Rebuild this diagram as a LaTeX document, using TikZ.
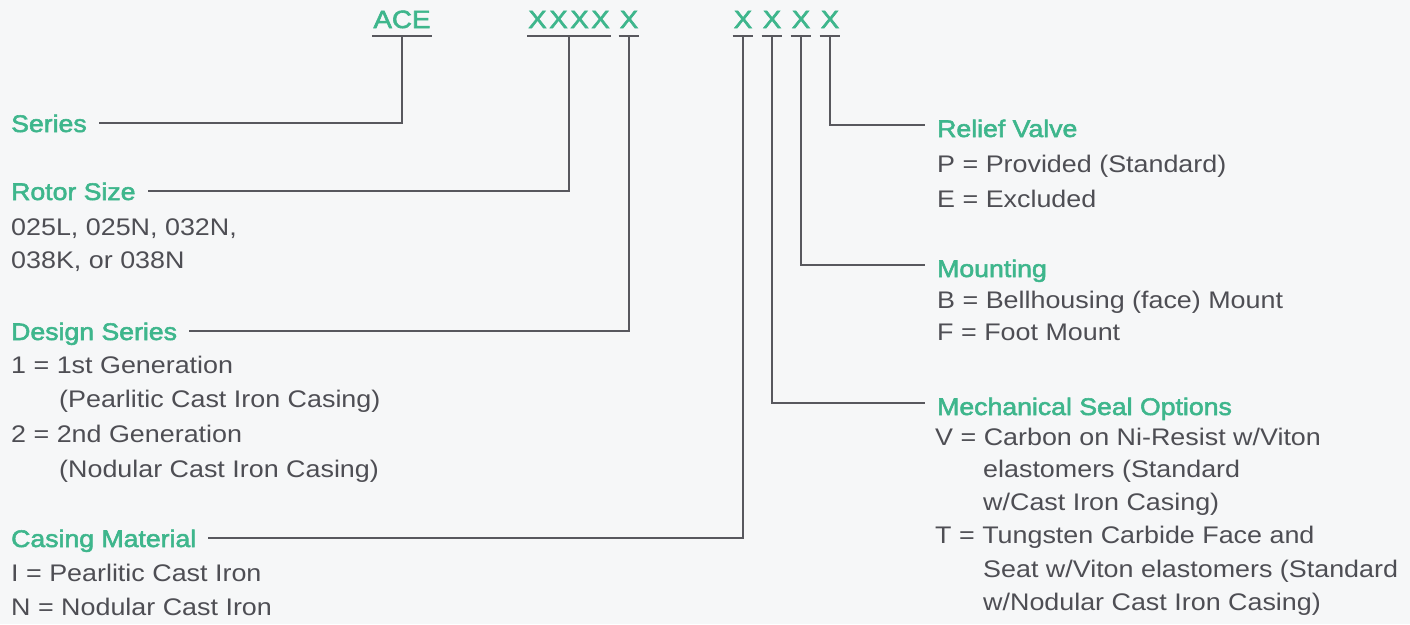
\documentclass[tikz,border=0pt]{standalone}
\usepackage{fontspec}
\newfontfamily\txfont[FakeStretch=1.12]{Liberation Sans}
\newfontfamily\hdfont[FakeStretch=1.11,FakeBold=2.3]{Liberation Sans}
\definecolor{acegreen}{RGB}{62,182,140}
\definecolor{acetext}{RGB}{78,78,84}
\definecolor{aceline}{RGB}{88,88,94}
\definecolor{acebg}{RGB}{246,247,248}
\tikzset{
  hd/.style={anchor=base west,inner sep=0pt,text height=18pt,text depth=0pt,text=acegreen,font=\hdfont\fontsize{24}{28}\selectfont},
  tx/.style={anchor=base west,inner sep=0pt,text=acetext,font=\txfont\fontsize{24}{28}\selectfont},
  cd/.style={anchor=base,inner xsep=1pt,inner ysep=8pt,text height=18pt,text depth=0pt,text=acegreen,font=\hdfont\fontsize{25}{28}\selectfont},
  ln/.style={draw=aceline,line width=1.6pt},
  lnk/.style={ln,shorten >=12pt},
}
\begin{document}
\begin{tikzpicture}[x=1pt,y=-1pt]
\fill[acebg] (0,0) rectangle (1410,624);
\useasboundingbox (0,0) rectangle (1410,624);
% model code
\node[cd] (ace) at (402,28){ACE}; \node[cd] (rot) at (569,28){X\kern2.5pt X\kern2.5pt X\kern2.5pt X};
\node[cd] (des) at (629,28){X};
\node[cd] (cas) at (743,28){X}; \node[cd] (sea) at (772,28){X};
\node[cd] (mnt) at (801,28){X}; \node[cd] (rel) at (830,28){X};
\foreach \n in {ace,rot,des,cas,sea,mnt,rel} \draw[ln] (\n.south west)--(\n.south east);
% left column
\node[hd] (hser) at (11,132){Series};
\node[hd] (hrot) at (11,200){Rotor Size};
\node[tx] (r1) at (11,235){025L, 025N, 032N,}; \node[tx] (r2) at (11,268){038K, or 038N};
\node[hd] (hdes) at (11,340){Design Series};
\node[tx] (d1) at (11,373){1 = 1st Generation}; \node[tx] (d2) at (59,407){(Pearlitic Cast Iron Casing)};
\node[tx] (d3) at (11,442){2 = 2nd Generation}; \node[tx] (d4) at (59,477){(Nodular Cast Iron Casing)};
\node[hd] (hcas) at (11,547){Casing Material};
\node[tx] (c1) at (11,581){I = Pearlitic Cast Iron}; \node[tx] (c2) at (11,615){N = Nodular Cast Iron};
% right column
\node[hd] (hrel) at (937,137){Relief Valve};
\node[tx] (p1) at (937,172){P = Provided (Standard)}; \node[tx] (p2) at (937,207){E = Excluded};
\node[hd] (hmnt) at (937,277){Mounting};
\node[tx] (m1) at (937,308){B = Bellhousing (face) Mount}; \node[tx] (m2) at (937,340){F = Foot Mount};
\node[hd] (hsea) at (937,415){Mechanical Seal Options};
\node[tx] (s1) at (935,445){V = Carbon on Ni-Resist w/Viton};
\node[tx] (s2) at (983,477){elastomers (Standard}; \node[tx] (s3) at (983,510){w/Cast Iron Casing)};
\node[tx] (s4) at (935,543){T = Tungsten Carbide Face and};
\node[tx] (s5) at (983,577){Seat w/Viton elastomers (Standard}; \node[tx] (s6) at (983,610){w/Nodular Cast Iron Casing)};
% connectors
\draw[lnk] (ace.south) |- (hser.east); \draw[lnk] (rot.south) |- (hrot.east);
\draw[lnk] (des.south) |- (hdes.east); \draw[lnk] (cas.south) |- (hcas.east);
\draw[lnk] (sea.south) |- ([yshift=3pt]hsea.west); \draw[lnk] (mnt.south) |- ([yshift=3pt]hmnt.west);
\draw[lnk] (rel.south) |- ([yshift=3pt]hrel.west);
\end{tikzpicture}
\end{document}
